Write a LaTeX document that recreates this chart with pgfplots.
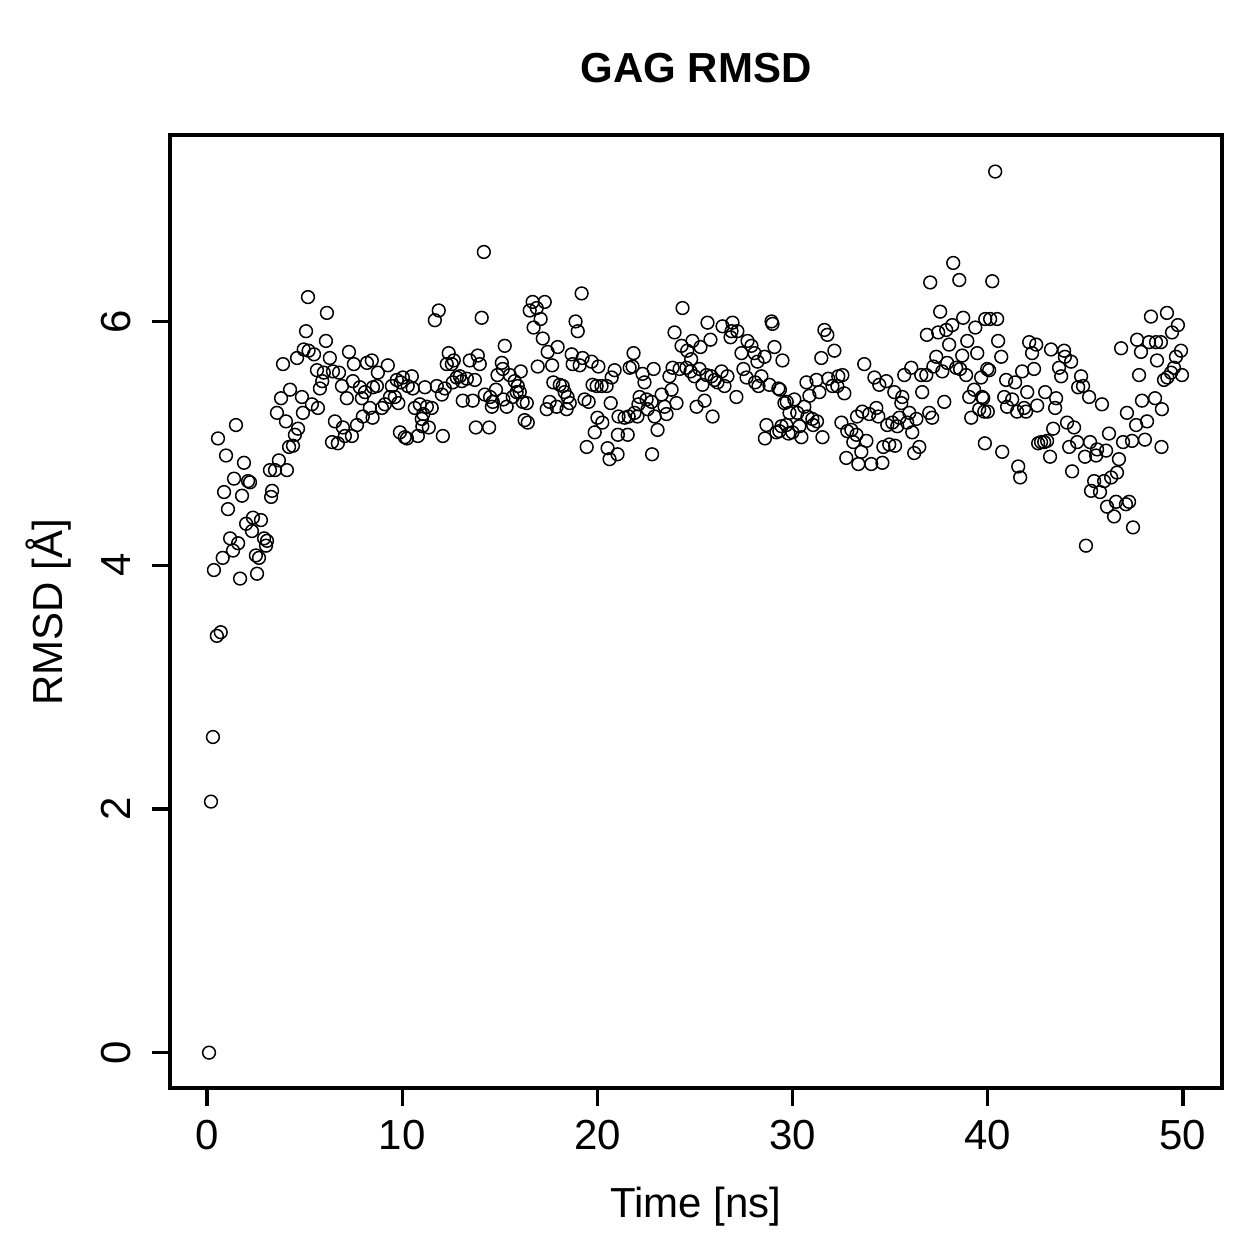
\documentclass[border=0pt]{standalone}
\usepackage{pgfplots}
\pgfplotsset{compat=1.18}
\usepackage{fontspec}
\setmainfont{Liberation Sans}
\newcommand{\lbl}{\fontsize{16.8}{20}\selectfont}
\pgfplotsset{every tick/.style={line width=1.3pt, black}, every major tick/.style={line width=1.3pt, black}}
\pgfplotstableread{
t v
0.1 0.00
0.2 2.06
0.3 2.59
0.35 3.96
0.5 3.42
0.56 5.04
0.7 3.45
0.8 4.06
0.87 4.60
0.97 4.90
1.07 4.46
1.18 4.22
1.33 4.12
1.38 4.71
1.48 5.15
1.59 4.18
1.69 3.89
1.79 4.57
1.89 4.84
2.0 4.34
2.1 4.69
2.2 4.68
2.3 4.28
2.35 4.39
2.5 4.08
2.56 3.93
2.66 4.06
2.76 4.37
2.92 4.22
3.02 4.16
3.07 4.20
3.22 4.78
3.28 4.56
3.33 4.61
3.48 4.78
3.58 5.25
3.68 4.86
3.79 5.37
3.89 5.65
4.04 5.18
4.09 4.78
4.2 4.97
4.25 5.44
4.4 4.98
4.5 5.07
4.61 5.70
4.66 5.12
4.86 5.38
4.91 5.25
4.95 5.77
5.07 5.92
5.17 6.20
5.2 5.76
5.37 5.32
5.48 5.73
5.63 5.60
5.68 5.29
5.78 5.45
5.9 5.51
5.98 5.58
6.09 5.84
6.14 6.07
6.29 5.70
6.4 5.01
6.45 5.59
6.55 5.18
6.7 5.00
6.76 5.58
6.91 5.47
6.96 5.13
7.06 5.06
7.16 5.37
7.27 5.75
7.42 5.06
7.47 5.51
7.52 5.65
7.68 5.15
7.83 5.46
7.93 5.37
7.98 5.22
8.09 5.42
8.19 5.66
8.34 5.29
8.44 5.68
8.48 5.21
8.5 5.46
8.7 5.47
8.75 5.58
8.96 5.29
9.11 5.32
9.26 5.64
9.37 5.38
9.47 5.47
9.62 5.38
9.72 5.52
9.8 5.33
9.88 5.09
9.92 5.50
10.03 5.54
10.13 5.05
10.24 5.04
10.28 5.47
10.49 5.55
10.54 5.45
10.64 5.29
10.8 5.06
10.9 5.32
11.0 5.20
11.03 5.14
11.08 5.24
11.16 5.46
11.26 5.30
11.36 5.13
11.51 5.29
11.67 6.01
11.77 5.47
11.87 6.09
12.03 5.40
12.08 5.06
12.18 5.45
12.28 5.65
12.38 5.74
12.54 5.65
12.59 5.50
12.64 5.68
12.79 5.54
12.95 5.55
13.05 5.51
13.1 5.35
13.31 5.53
13.46 5.68
13.61 5.35
13.72 5.52
13.77 5.13
13.87 5.72
13.97 5.65
14.07 6.03
14.18 6.57
14.23 5.40
14.45 5.13
14.5 5.38
14.59 5.30
14.64 5.34
14.8 5.44
14.88 5.56
15.1 5.66
15.15 5.61
15.18 5.36
15.25 5.80
15.35 5.30
15.51 5.56
15.66 5.38
15.76 5.51
15.86 5.42
15.92 5.47
16.02 5.42
16.07 5.59
16.17 5.34
16.27 5.19
16.38 5.33
16.43 5.17
16.53 6.09
16.68 6.16
16.73 5.95
16.89 6.11
16.94 5.63
17.09 6.02
17.2 5.86
17.3 6.16
17.4 5.28
17.45 5.75
17.55 5.34
17.68 5.64
17.74 5.50
17.91 5.30
17.96 5.79
18.07 5.48
18.22 5.47
18.32 5.42
18.42 5.28
18.47 5.38
18.58 5.33
18.68 5.73
18.73 5.65
18.88 6.00
18.99 5.92
19.09 5.64
19.19 6.23
19.24 5.70
19.34 5.36
19.45 4.97
19.55 5.34
19.7 5.67
19.75 5.48
19.86 5.09
19.96 5.47
20.0 5.21
20.05 5.63
20.21 5.47
20.25 5.17
20.47 5.47
20.52 4.96
20.62 4.87
20.68 5.33
20.73 5.54
20.88 5.60
21.03 4.91
21.05 5.07
21.08 5.22
21.39 5.21
21.55 5.07
21.6 5.22
21.65 5.62
21.8 5.63
21.85 5.74
21.9 5.25
22.05 5.22
22.1 5.32
22.16 5.38
22.31 5.57
22.41 5.50
22.52 5.36
22.57 5.28
22.78 5.34
22.8 4.91
22.88 5.61
22.93 5.22
23.08 5.11
23.29 5.40
23.44 5.30
23.54 5.24
23.69 5.55
23.8 5.44
23.85 5.62
23.95 5.91
24.05 5.33
24.21 5.61
24.31 5.80
24.36 6.11
24.56 5.62
24.6 5.76
24.77 5.59
24.8 5.69
24.87 5.84
24.97 5.55
25.08 5.30
25.23 5.61
25.28 5.79
25.38 5.48
25.49 5.35
25.59 5.56
25.64 5.99
25.79 5.85
25.84 5.55
25.9 5.22
26.0 5.52
26.15 5.50
26.36 5.59
26.41 5.96
26.51 5.47
26.66 5.55
26.82 5.87
26.87 5.92
26.92 5.99
27.12 5.38
27.17 5.92
27.38 5.74
27.48 5.61
27.64 5.54
27.69 5.84
27.89 5.80
28.05 5.74
28.08 5.50
28.2 5.67
28.25 5.47
28.4 5.55
28.56 5.71
28.58 5.04
28.66 5.15
28.81 5.48
28.92 6.00
28.97 5.98
29.07 5.79
29.17 5.09
29.27 5.45
29.32 5.10
29.35 5.44
29.43 5.14
29.48 5.68
29.58 5.33
29.68 5.15
29.7 5.34
29.79 5.08
29.84 5.25
29.99 5.09
30.09 5.36
30.24 5.25
30.35 5.14
30.45 5.05
30.6 5.30
30.71 5.50
30.76 5.22
30.86 5.39
31.01 5.20
31.05 5.15
31.22 5.52
31.25 5.18
31.37 5.42
31.47 5.70
31.53 5.05
31.63 5.93
31.78 5.89
31.83 5.53
32.04 5.47
32.14 5.76
32.29 5.47
32.34 5.55
32.5 5.17
32.55 5.56
32.65 5.41
32.75 4.88
32.8 5.10
33.01 5.11
33.11 5.01
33.27 5.07
33.3 5.22
33.37 4.83
33.52 4.93
33.57 5.26
33.67 5.65
33.78 5.02
33.93 5.24
34.03 4.83
34.19 5.54
34.29 5.29
34.39 5.22
34.44 5.48
34.6 4.84
34.65 4.97
34.8 5.51
34.85 5.15
34.95 4.99
35.11 5.17
35.21 5.42
35.25 4.98
35.36 5.14
35.47 5.21
35.57 5.33
35.62 5.38
35.72 5.56
35.87 5.17
35.98 5.25
36.08 5.62
36.13 5.09
36.23 4.92
36.34 5.20
36.49 4.97
36.59 5.56
36.64 5.42
36.85 5.56
36.88 5.89
37.0 5.25
37.05 6.32
37.15 5.21
37.21 5.63
37.36 5.71
37.46 5.91
37.56 6.08
37.67 5.59
37.77 5.34
37.87 5.93
37.92 5.66
38.02 5.81
38.18 5.97
38.23 6.48
38.38 5.62
38.54 6.34
38.58 5.61
38.69 5.72
38.74 6.03
38.89 5.56
38.95 5.84
39.05 5.38
39.15 5.21
39.3 5.44
39.36 5.95
39.46 5.74
39.56 5.28
39.66 5.54
39.71 5.38
39.77 5.37
39.82 5.26
39.85 5.00
39.87 6.02
39.97 5.61
40.0 5.26
40.07 5.60
40.12 6.02
40.23 6.33
40.38 7.23
40.48 6.02
40.53 5.84
40.69 5.71
40.74 4.93
40.84 5.38
40.94 5.52
40.99 5.30
41.25 5.36
41.4 5.50
41.5 5.26
41.56 4.81
41.66 4.72
41.76 5.59
41.86 5.29
41.96 5.26
42.02 5.42
42.12 5.83
42.27 5.74
42.37 5.61
42.48 5.81
42.53 5.31
42.58 5.00
42.73 5.01
42.89 5.01
42.94 5.42
43.04 5.02
43.19 4.89
43.24 5.77
43.35 5.12
43.45 5.29
43.5 5.37
43.65 5.62
43.76 5.55
43.91 5.76
43.95 5.71
44.06 5.17
44.17 4.97
44.27 5.67
44.32 4.77
44.42 5.13
44.58 5.01
44.63 5.46
44.78 5.55
44.88 5.47
44.98 4.89
45.03 4.16
45.19 5.38
45.24 5.01
45.29 4.61
45.45 4.69
45.55 4.90
45.6 4.95
45.75 4.60
45.85 5.32
45.96 4.69
46.06 4.94
46.11 4.48
46.21 5.08
46.32 4.72
46.47 4.40
46.57 4.52
46.62 4.76
46.72 4.87
46.83 5.78
46.93 5.01
47.08 4.50
47.13 5.25
47.24 4.52
47.39 5.02
47.44 4.31
47.6 5.15
47.65 5.85
47.75 5.56
47.85 5.75
47.9 5.35
48.05 5.03
48.16 5.18
48.26 5.83
48.36 6.04
48.57 5.37
48.62 5.83
48.67 5.68
48.87 5.83
48.9 4.97
48.92 5.28
49.03 5.52
49.18 6.07
49.2 5.54
49.39 5.58
49.44 5.91
49.54 5.62
49.64 5.71
49.74 5.97
49.9 5.76
49.95 5.56
}\rmsd
\begin{document}
\lbl
\begin{tikzpicture}
\path[use as bounding box] (-68pt,-68.4pt) rectangle (435.6pt,435.2pt);
\begin{axis}[
  at={(0pt,0pt)}, anchor=south west,
  scale only axis, width=420.8pt, height=381.2pt,
  xmin=-1.9, xmax=52, ymin=-0.29, ymax=7.53,
  xtick={0,10,20,30,40,50}, ytick={0,2,4,6},
  tick pos=left, tick align=outside, major tick length=7.2pt,
  line width=1.3pt,
  axis line style={line width=1.3pt},
  /pgf/number format/assume math mode=true,
  ticklabel style={font=\lbl},
  xticklabel style={anchor=base, inner sep=0pt, yshift=-17.2pt},
  yticklabel style={anchor=base, inner sep=0pt, xshift=-8.4pt, rotate=90},
]
\addplot[only marks, black, line width=0.6pt, mark=o, mark size=2.55pt, mark options={line width=0.6pt}] table[x=t, y=v] {\rmsd};
\end{axis}
\node[anchor=base, font=\lbl\bfseries] at (210.4pt,402pt) {GAG RMSD};
\node[anchor=base, font=\lbl] at (210.4pt,-51.6pt) {Time [ns]};
\node[anchor=base, font=\lbl, rotate=90] at (-42.8pt,190.4pt) {RMSD [Å]};
\end{tikzpicture}
\end{document}
